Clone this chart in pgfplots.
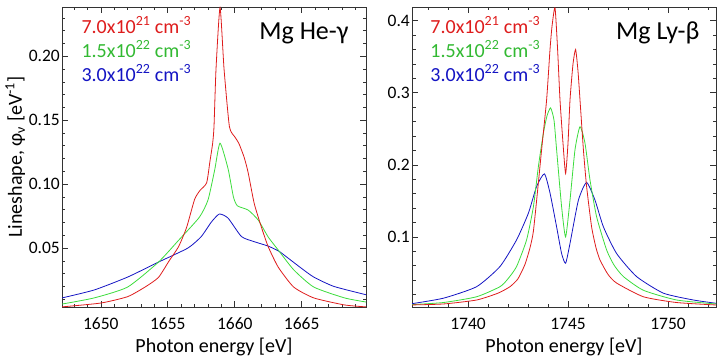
\documentclass[border=0pt]{standalone}
\usepackage{fontspec}
\setmainfont{Carlito}
\usepackage{pgfplots}
\pgfplotsset{compat=1.18}

\definecolor{cred}{RGB}{222,28,28}
\definecolor{cgreen}{RGB}{60,220,60}
\definecolor{cblue}{RGB}{20,20,195}
\definecolor{tgreen}{RGB}{50,185,50}

\pgfplotsset{
  panel/.style={
    scale only axis, width=304pt, height=300pt,
    anchor=south west,
    axis line style={black!80, line width=0.7pt},
    every tick/.style={black!80, line width=0.6pt},
    major tick length=6pt, minor tick length=3.5pt,
    tick label style={font=\fontsize{17.5}{20}\selectfont},
    /pgf/number format/assume math mode=true,
    /pgf/number format/set thousands separator={},
    xticklabel style={anchor=base, yshift=-22pt, inner sep=0pt},
    yticklabel style={inner sep=2pt},
    xlabel style={at={(axis description cs:0.5,-0.153)}, anchor=base,
      font=\fontsize{20}{24}\selectfont},
    ylabel style={font=\fontsize{20}{24}\selectfont},
    every axis plot/.style={line width=0.8pt, smooth, tension=0.35, no marks},
  },
}
\tikzset{
  dens/.style={anchor=base west, font=\fontsize{20}{24}\selectfont},
  ttl/.style={anchor=base east, font=\fontsize{26}{30}\selectfont},
}

\begin{document}
\begin{tikzpicture}
% left: Mg He-gamma
\begin{axis}[panel, at={(62pt,52pt)},
  xmin=1647.1, xmax=1669.8, ymin=0.0039, ymax=0.2385,
  xtick={1650,1655,1660,1665},
  minor xtick={1648,1649,1651,1652,1653,1654,1656,1657,1658,1659,1661,1662,1663,1664,1666,1667,1668,1669},
  ytick={0.05,0.10,0.15,0.20},
  minor ytick={0.01,0.02,0.03,0.04,0.06,0.07,0.08,0.09,0.11,0.12,0.13,0.14,0.16,0.17,0.18,0.19,0.21,0.22,0.23},
  yticklabel style={/pgf/number format/.cd, fixed, fixed zerofill, precision=2},
  xlabel={Photon energy [eV]},
  ylabel={Lineshape, φ\textsubscript{ν} [eV\textsuperscript{-1}]},
  ylabel style={at={(axis description cs:-0.1316,0.5)}, anchor=base, rotate=0},
]
\addplot[cblue] coordinates {
(1647.1,0.011) (1649.5,0.0172) (1652.0,0.0273) (1654.3,0.039) (1656.5,0.050)
(1657.5,0.059) (1658.25,0.0703) (1658.85,0.0766) (1659.5,0.0734) (1660.5,0.059)
(1661.45,0.055) (1662.5,0.0515) (1663.3,0.0475) (1664.0,0.042) (1665.0,0.034)
(1665.9,0.0273) (1667.4,0.020) (1669.8,0.0135)
};
\addplot[cgreen] coordinates {
(1647.1,0.0062) (1649.5,0.011) (1652.0,0.0195) (1654.3,0.039) (1655.8,0.056)
(1657.35,0.074) (1658.0,0.0875) (1658.5,0.111) (1658.9,0.132) (1659.5,0.112)
(1659.9,0.090) (1660.2,0.083) (1661.0,0.0797) (1661.75,0.0719) (1662.5,0.0586)
(1663.25,0.0484) (1664.4,0.033) (1665.9,0.0195) (1668.2,0.011) (1669.8,0.0078)
};
\addplot[cred] coordinates {
(1647.1,0.004) (1650.0,0.007) (1652.0,0.012) (1653.3,0.0195) (1654.3,0.027)
(1655.1,0.040) (1655.8,0.051) (1656.4,0.066) (1657.0,0.088) (1657.4,0.095)
(1657.9,0.101) (1658.15,0.118) (1658.35,0.132) (1658.45,0.145) (1658.6,0.19)
(1658.9,0.238) (1659.2,0.19) (1659.6,0.145) (1660.0,0.137) (1660.3,0.132)
(1660.7,0.121) (1661.0,0.109) (1661.45,0.085) (1662.0,0.066) (1662.5,0.051)
(1663.25,0.035) (1664.4,0.0195) (1665.9,0.011) (1668.2,0.0055) (1669.8,0.004)
};
\node[dens, text=cred] at (rel axis cs:0.0526,0.913) {7.0x10\textsuperscript{21} cm\textsuperscript{-3}};
\node[dens, text=tgreen] at (rel axis cs:0.0526,0.833) {1.5x10\textsuperscript{22} cm\textsuperscript{-3}};
\node[dens, text=cblue] at (rel axis cs:0.0526,0.753) {3.0x10\textsuperscript{22} cm\textsuperscript{-3}};
\node[ttl] at (rel axis cs:0.954,0.89) {Mg He-γ};
\end{axis}

% right: Mg Ly-beta
\begin{axis}[panel, at={(412pt,52pt)},
  xmin=1737.2, xmax=1752.4, ymin=0.0028, ymax=0.419,
  xtick={1740,1745,1750},
  minor xtick={1738,1739,1741,1742,1743,1744,1746,1747,1748,1749,1751,1752},
  ytick={0.1,0.2,0.3,0.4},
  minor ytick={0.02,0.04,0.06,0.08,0.12,0.14,0.16,0.18,0.22,0.24,0.26,0.28,0.32,0.34,0.36,0.38},
  yticklabel style={/pgf/number format/.cd, fixed, precision=1},
  xlabel={Photon energy [eV]},
]
\addplot[cblue] coordinates {
(1737.1,0.007) (1738.77,0.015) (1740.43,0.031) (1741.6,0.059) (1742.43,0.096)
(1743.02,0.133) (1743.43,0.17) (1743.82,0.1875) (1744.1,0.161) (1744.43,0.114)
(1744.68,0.077) (1744.88,0.0635) (1745.1,0.091) (1745.52,0.151) (1745.93,0.1755)
(1746.35,0.151) (1746.77,0.114) (1747.43,0.077) (1748.43,0.045) (1749.77,0.022)
(1751.27,0.0125) (1752.4,0.008)
};
\addplot[cgreen] coordinates {
(1737.1,0.006) (1738.77,0.009) (1740.43,0.017) (1741.6,0.031) (1742.0,0.042)
(1742.43,0.059) (1742.93,0.096) (1743.27,0.142) (1743.52,0.198) (1743.77,0.244)
(1743.95,0.268) (1744.13,0.279) (1744.3,0.262) (1744.43,0.221) (1744.68,0.142)
(1744.88,0.100) (1745.1,0.151) (1745.35,0.221) (1745.6,0.253) (1745.85,0.230)
(1746.1,0.179) (1746.43,0.128) (1746.93,0.082) (1747.3,0.061) (1747.77,0.045)
(1748.77,0.026) (1750.43,0.0125) (1752.4,0.007)
};
\addplot[cred] coordinates {
(1737.1,0.0056) (1738.77,0.007) (1740.43,0.0125) (1741.5,0.022) (1742.1,0.031)
(1742.5,0.042) (1742.85,0.062) (1743.1,0.085) (1743.27,0.108) (1743.5,0.17)
(1743.68,0.221) (1743.93,0.29) (1744.1,0.36) (1744.2,0.392) (1744.35,0.418)
(1744.48,0.36) (1744.6,0.29) (1744.75,0.23) (1744.88,0.188) (1745.0,0.23)
(1745.1,0.29) (1745.25,0.34) (1745.38,0.36) (1745.5,0.33) (1745.6,0.29)
(1745.77,0.221) (1745.93,0.17) (1746.18,0.114) (1746.4,0.085) (1746.6,0.068)
(1747.0,0.048) (1747.43,0.036) (1748.77,0.017) (1750.43,0.009) (1752.4,0.0056)
};
\node[dens, text=cred] at (rel axis cs:0.049,0.913) {7.0x10\textsuperscript{21} cm\textsuperscript{-3}};
\node[dens, text=tgreen] at (rel axis cs:0.049,0.833) {1.5x10\textsuperscript{22} cm\textsuperscript{-3}};
\node[dens, text=cblue] at (rel axis cs:0.049,0.753) {3.0x10\textsuperscript{22} cm\textsuperscript{-3}};
\node[ttl] at (rel axis cs:0.957,0.89) {Mg Ly-β};
\end{axis}
\pgfresetboundingbox
\useasboundingbox (0,0) rectangle (720pt,359pt);
\end{tikzpicture}
\end{document}
